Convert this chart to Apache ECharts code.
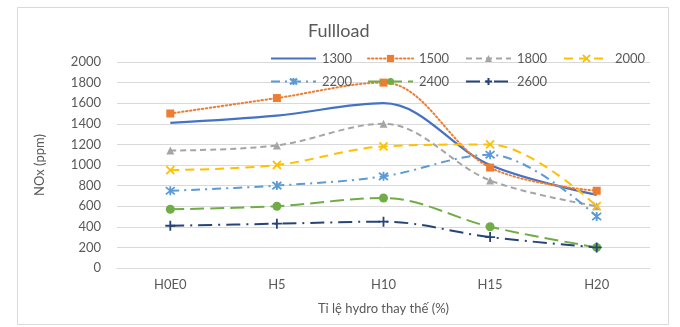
<!DOCTYPE html>
<html>
<head>
<meta charset="utf-8">
<script src="https://cdn.jsdelivr.net/npm/echarts@6/dist/echarts.min.js"></script>
<style>html,body{margin:0;padding:0;background:#fff}#c{width:680px;height:327px}</style>
</head>
<body>
<div id="c"></div>
<script>
var categories = ['H0E0', 'H5', 'H10', 'H15', 'H20'];
var seriesNames = ['1300', '1500', '1800', '2000', '2200', '2400', '2600'];
var s1300 = [1410, 1480, 1600, 1000, 710];
var s1500 = [1500, 1650, 1800, 975, 750];
var s1800 = [1140, 1190, 1400, 850, 600];
var s2000 = [950, 1000, 1180, 1200, 600];
var s2200 = [750, 800, 890, 1100, 500];
var s2400 = [570, 600, 680, 400, 200];
var s2600 = [410, 430, 450, 300, 200];
var yTicks = [0, 200, 400, 600, 800, 1000, 1200, 1400, 1600, 1800, 2000];

var values = [s1300, s1500, s1800, s2000, s2200, s2400, s2600];
var colors = ['#4472C4', '#ED7D31', '#A5A5A5', '#FFC000', '#5B9BD5', '#70AD47', '#264478'];
var dashes = ['solid', [1.5, 2.5], [6, 4], [9, 6], [9, 5, 2, 5], [14, 6], [14, 6, 2, 6]];
var symbols = ['none', 'rect', 'triangle',
  'path://M0,0L10,10M0,10L10,0',
  'path://M1,1L9,9M1,9L9,1M5,0L5,10',
  'circle',
  'path://M0,5L10,5M5,0L5,10'];
var symSizes = [0, 8, 8, 8, 9, 9, 10];
var legendPos = [[270, 52], [367, 52], [465, 52], [563, 52], [270, 75], [367, 75], [465, 75]];

var textColor = '#595959';
var fontFam = 'Lato, "Liberation Sans", sans-serif';

var series = seriesNames.map(function (n, i) {
  return {
    name: n,
    type: 'line',
    data: values[i],
    smooth: 0.35,
    symbol: symbols[i],
    symbolSize: symSizes[i],
    showSymbol: i !== 0,
    lineStyle: { color: colors[i], width: i === 0 ? 2.25 : 2, type: dashes[i], cap: i === 1 ? 'round' : 'butt' },
    itemStyle: { color: colors[i], borderColor: colors[i], borderWidth: (i === 3 || i === 4 || i === 6) ? 1.8 : 0 },
    emphasis: { disabled: true }
  };
});

var legends = seriesNames.map(function (n, i) {
  var lg = {
    data: [n],
    left: legendPos[i][0],
    top: legendPos[i][1],
    itemWidth: 45,
    itemHeight: 9,
    itemGap: 0,
    padding: 0,
    textStyle: { color: textColor, fontSize: 13, fontFamily: fontFam, padding: [0, 0, 0, 1] },
    selectedMode: false
  };
  if (i === 0) lg.itemStyle = { opacity: 0 };
  return lg;
});

var chart = echarts.init(document.getElementById('c'));
chart.setOption({
  backgroundColor: '#fff',
  animation: false,
  graphic: [{
    type: 'rect', shape: { x: 17.5, y: 7.5, width: 651, height: 317 },
    style: { fill: 'none', stroke: '#d9d9d9', lineWidth: 1 }, silent: true, z: -1
  }],
  title: {
    text: 'Fullload',
    left: 308,
    top: 22,
    padding: 0,
    textStyle: { color: textColor, fontSize: 18, fontWeight: 'normal', fontFamily: fontFam }
  },
  legend: legends,
  grid: { left: 117, right: 30, top: 62, bottom: 59, containLabel: false },
  xAxis: {
    type: 'category',
    data: categories,
    boundaryGap: true,
    axisLine: { show: true, lineStyle: { color: '#d9d9d9' } },
    axisTick: { show: false },
    axisLabel: { color: textColor, fontSize: 13, fontFamily: fontFam, margin: 10 },
    name: 'Tỉ lệ hydro thay thế (%)',
    nameLocation: 'middle',
    nameGap: 34,
    nameTextStyle: { color: textColor, fontSize: 13, fontFamily: fontFam }
  },
  yAxis: {
    type: 'value',
    min: yTicks[0],
    max: yTicks[yTicks.length - 1],
    interval: yTicks[1] - yTicks[0],
    axisLine: { show: false },
    axisTick: { show: false },
    splitLine: { lineStyle: { color: '#d9d9d9', width: 1 } },
    axisLabel: { color: textColor, fontSize: 13, fontFamily: fontFam, margin: 16, formatter: function (v) { return String(v); } },
    name: 'NOx (ppm)',
    nameLocation: 'middle',
    nameGap: 53,
    nameTextStyle: { color: textColor, fontSize: 13, fontFamily: fontFam, padding: [0, 0, 18, 0] }
  },
  series: series
});
</script>
</body>
</html>
